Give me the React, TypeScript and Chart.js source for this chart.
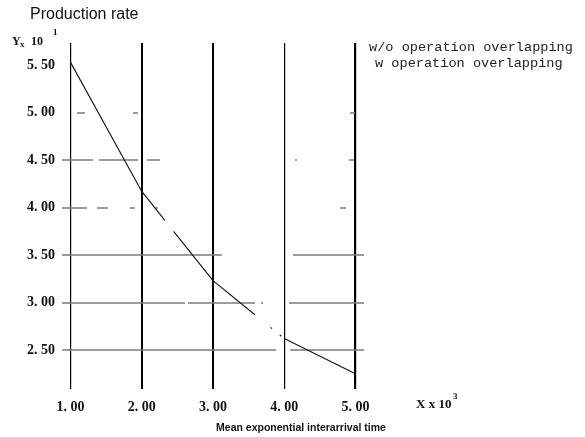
import React, { useEffect, useRef } from "react";
import { Chart, registerables } from "chart.js";

Chart.register(...registerables);

// ---- data ----
const xValues = [1, 2, 3, 4, 5];
const productionRate = [5.53, 4.17, 3.23, 2.62, 2.25];
const xTickLabels = ["1. 00", "2. 00", "3. 00", "4. 00", "5. 00"];
const yTickValues = [2.5, 3.0, 3.5, 4.0, 4.5, 5.0, 5.5];
const yTickLabels = ["2. 50", "3. 00", "3. 50", "4. 00", "4. 50", "5. 00", "5. 50"];
const gridValues = [2.5, 3.0, 3.5, 4.0, 4.5, 5.0];
const legendLabels = ["w/o operation overlapping", "w operation overlapping"];
const yTitle = "Production rate";
const xTitle = "Mean exponential interarrival time";

// ---- styles (scan look) ----
const gridDash: number[][] = [
  [214, 14, 200],
  [123, 3, 67, 6, 2, 26, 80],
  [160, 71, 80],
  [25, 10, 11, 22, 5, 20, 3, 182, 6, 40],
  [31, 6, 39, 9, 13, 135, 2, 52, 5, 40],
  [0, 15, 8, 48, 5, 212, 5, 40],
];
const verticalWidths = [1.2, 2, 2, 1.2, 2.2];
const segmentDash: (number[] | undefined)[] = [undefined, [37, 14, 200], [54, 20, 2, 10, 2, 40], undefined];

const hGridPlugin = {
  id: "hgrid",
  beforeDatasetsDraw(chart: any) {
    const { ctx, chartArea, scales } = chart;
    ctx.save();
    ctx.strokeStyle = "#7c7c7c";
    ctx.lineWidth = 1.6;
    gridValues.forEach((v, i) => {
      const y = Math.round(scales.y.getPixelForValue(v));
      ctx.setLineDash(gridDash[i] || []);
      ctx.beginPath();
      ctx.moveTo(chartArea.left, y);
      ctx.lineTo(chartArea.right, y);
      ctx.stroke();
    });
    ctx.restore();
  },
};

const textPlugin = {
  id: "texts",
  afterDraw(chart: any) {
    const { ctx } = chart;
    ctx.save();
    ctx.fillStyle = "#111";
    ctx.textBaseline = "middle";
    ctx.textAlign = "left";
    // y axis title
    ctx.font = '16px "Liberation Sans"';
    ctx.fillText(yTitle, 30, 15);
    // Y x 10^1
    ctx.font = 'bold 12px "Liberation Serif"';
    ctx.fillText("Y", 12, 42);
    ctx.font = 'bold 9px "Liberation Serif"';
    ctx.fillText("x", 20, 45);
    ctx.font = 'bold 12px "Liberation Serif"';
    ctx.fillText("10", 31, 42);
    ctx.font = 'bold 9px "Liberation Serif"';
    ctx.fillText("1", 53, 33);
    // X x 10^3
    ctx.font = 'bold 13px "Liberation Serif"';
    ctx.fillText("X x 10", 416, 405);
    ctx.font = 'bold 9px "Liberation Serif"';
    ctx.fillText("3", 453, 397);
    // x axis title
    ctx.font = 'bold 10.5px "Liberation Sans"';
    ctx.textAlign = "center";
    ctx.fillText(xTitle, 301, 428);
    // legend texts
    ctx.textAlign = "left";
    ctx.font = '13.6px "Liberation Mono"';
    ctx.fillStyle = "#222";
    ctx.fillText(legendLabels[0], 369, 47);
    ctx.fillText(legendLabels[1], 375, 63);
    ctx.restore();
  },
};

export default function App() {
  const ref = useRef<HTMLCanvasElement | null>(null);

  useEffect(() => {
    document.body.style.margin = "0";
    const canvas = ref.current;
    if (!canvas) return;
    const chart = new Chart(canvas, {
      type: "line",
      data: {
        datasets: [
          {
            label: legendLabels[0],
            data: xValues.map((x, i) => ({ x, y: productionRate[i] })),
            borderColor: "#111",
            borderWidth: 1.1,
            pointRadius: 0,
            tension: 0,
            segment: {
              borderDash: (c: any) => segmentDash[c.p0DataIndex],
            },
          },
        ],
      },
      options: {
        animation: false,
        responsive: true,
        maintainAspectRatio: false,
        layout: { padding: { left: 0, right: 221, top: 43, bottom: 0 } },
        plugins: {
          legend: { display: false },
          tooltip: { enabled: false },
          title: { display: false },
        },
        scales: {
          x: {
            type: "linear",
            min: 0.88,
            max: 5.12,
            afterBuildTicks: (scale: any) => {
              scale.ticks = xValues.map((v) => ({ value: v }));
            },
            afterFit: (scale: any) => {
              scale.height = 48;
            },
            border: { display: false },
            grid: {
              color: "#000",
              lineWidth: (c: any) => verticalWidths[c.index] ?? 1,
              drawTicks: false,
            },
            ticks: {
              autoSkip: false,
              maxRotation: 0,
              padding: 10,
              color: "#111",
              font: { family: "Liberation Serif", size: 14, weight: "bold" },
              callback: (_v: any, i: number) => xTickLabels[i],
            },
          },
          y: {
            type: "linear",
            min: 2.089,
            max: 5.734,
            afterBuildTicks: (scale: any) => {
              scale.ticks = yTickValues.map((v) => ({ value: v }));
            },
            afterFit: (scale: any) => {
              scale.width = 62;
            },
            border: { display: false },
            grid: { display: false, drawTicks: false },
            ticks: {
              autoSkip: false,
              padding: 7,
              color: "#111",
              font: { family: "Liberation Serif", size: 14, weight: "bold" },
              callback: (_v: any, i: number) => yTickLabels[i],
            },
          },
        },
      },
      plugins: [hGridPlugin, textPlugin],
    });
    return () => chart.destroy();
  }, []);

  return (
    <div style={{ position: "absolute", left: 0, top: 0, width: 585, height: 437, background: "#fff" }}>
      <canvas ref={ref} />
    </div>
  );
}
